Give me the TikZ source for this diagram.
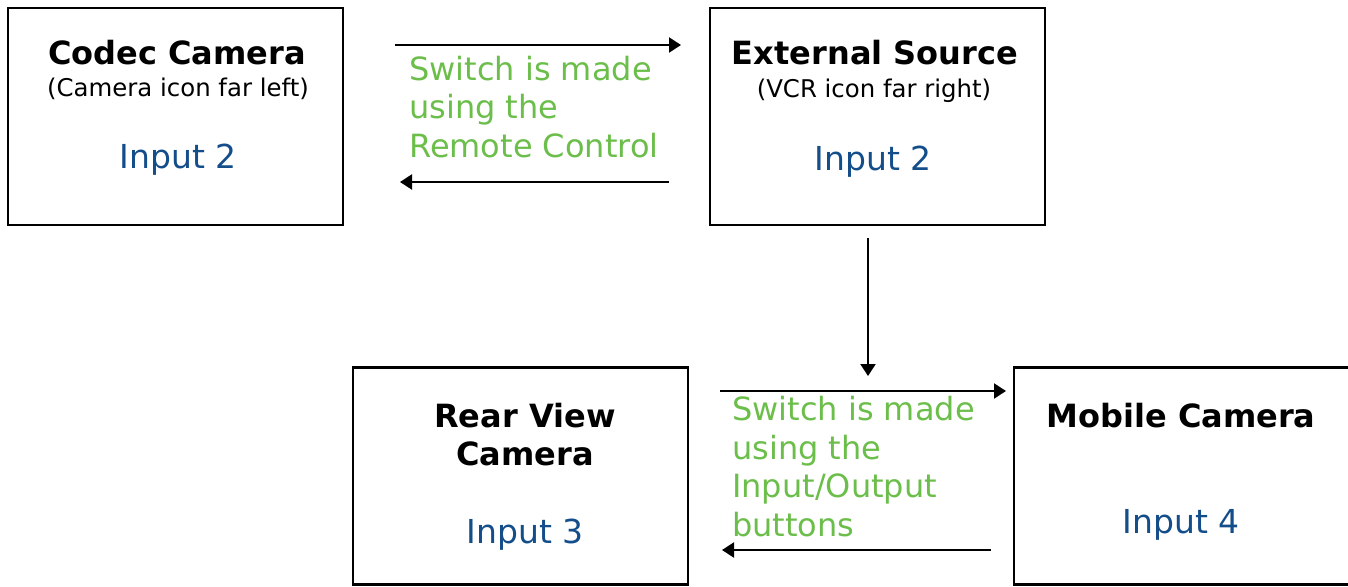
\documentclass[tikz,border=0pt]{standalone}
\usepackage{fontspec}
\setmainfont{DejaVu Sans}
\usetikzlibrary{arrows.meta}
\definecolor{inblue}{RGB}{20,78,138}
\definecolor{swgreen}{RGB}{108,190,75}
\tikzset{
  box/.style={draw=black, line width=2.4pt, minimum width=335pt, minimum height=217pt, inner sep=0pt},
  title/.style={anchor=base, font=\fontsize{32}{38}\selectfont\bfseries, inner sep=0pt},
  subtitle/.style={anchor=base, font=\fontsize{24.4}{28}\selectfont, inner sep=0pt},
  inputlbl/.style={anchor=base, font=\fontsize{33}{38}\selectfont, text=inblue, inner sep=0pt},
  swlbl/.style={anchor=base west, font=\fontsize{32}{38.5}\selectfont, text=swgreen, inner sep=0pt, align=left},
  conn/.style={draw=black, line width=2.2pt, -{Triangle[length=12pt,width=15pt]}}
}
\begin{document}
\begin{tikzpicture}[x=1pt,y=-1pt]
\useasboundingbox (0,0) rectangle (1348,586);
% boxes
\node[box] (codec) at (175.5,116.5) {};
\node[box] (ext) at (877.5,116.5) {};
\node[box] (rear) at (520.5,476) {};
\node[box, minimum width=345pt] (mobile) at (1186.5,476) {};
% texts
\node[title] (t1) at (177,64) {Codec Camera};
\node[subtitle] (s1) at (178,96) {(Camera icon far left)};
\node[inputlbl] (i1) at (178,168) {Input 2};
\node[title] (t2) at (875,64) {External Source};
\node[subtitle] (s2) at (874,97) {(VCR icon far right)};
\node[inputlbl] (i2) at (873,170) {Input 2};
\node[title] (t3a) at (525,427) {Rear View};
\node[title] (t3b) at (525,465) {Camera};
\node[inputlbl] (i3) at (525,543) {Input 3};
\node[title] (t4) at (1181,427) {Mobile Camera};
\node[inputlbl] (i4) at (1181,533) {Input 4};
\node[swlbl] (sw1) at (409,157) {Switch is made\\using the\\Remote Control};
\node[swlbl] (sw2) at (732,536) {Switch is made\\using the\\Input/Output\\buttons};
% connector ends
\coordinate (a1s) at (395,45);   \coordinate (a1e) at (681,45);
\coordinate (a2s) at (669,182);  \coordinate (a2e) at (400,182);
\coordinate (a3s) at (868,238);  \coordinate (a3e) at (868,376);
\coordinate (a4s) at (720,391);  \coordinate (a4e) at (1006,391);
\coordinate (a5s) at (991,550);  \coordinate (a5e) at (722,550);
\draw[conn] (a1s) -- (a1e);
\draw[conn] (a2s) -- (a2e);
\draw[conn] (a3s) -- (a3e);
\draw[conn] (a4s) -- (a4e);
\draw[conn] (a5s) -- (a5e);
\end{tikzpicture}
\end{document}
